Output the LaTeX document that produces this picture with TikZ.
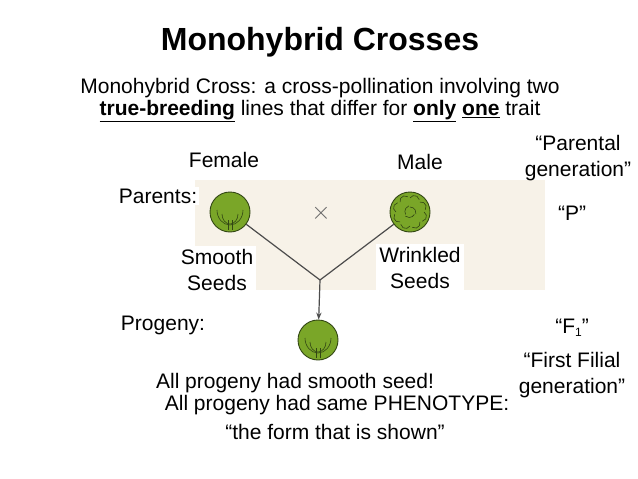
\documentclass[tikz,border=0pt]{standalone}
\usepackage{fontspec}
\setmainfont{Liberation Sans}
\usetikzlibrary{arrows.meta}
\definecolor{pea}{RGB}{122,166,40}
\definecolor{peadark}{RGB}{50,70,20}
\definecolor{paper}{RGB}{247,242,232}
\tikzset{
  txt/.style={font=\fontsize{21}{26}\selectfont, align=center, inner sep=0pt},
  seed/.style={circle, fill=pea, draw=peadark, line width=0.9pt, minimum size=40pt},
  link/.style={draw=black!70, line width=1.2pt}
}
\begin{document}
\begin{tikzpicture}[x=1pt,y=-1pt]
\useasboundingbox (0,0) rectangle (638,479);
\fill[white] (0,0) rectangle (638,479);
\fill[paper] (195,180) rectangle (545,290);
\node[txt,font=\bfseries\fontsize{32}{36}\selectfont] (title) at (320,42) {Monohybrid Crosses};
\node[txt] (d1) at (320,88) {Monohybrid Cross: a cross-pollination involving two};
\node[txt] (d2) at (320,111) {\textbf{\underline{true-breeding}} lines that differ for \textbf{\underline{only}} \textbf{\underline{one}} trait};
\node[txt] (fem) at (224,160) {Female};
\node[txt] (male) at (420,162) {Male};
\node[txt,fill=white,inner sep=2pt] (par) at (158,196) {Parents:};
\node[txt] (pg) at (578,158) {“Parental\\generation”};
\node[txt] (p) at (572,213) {“P”};
\node[seed] (s1) at (230,212) {};
\node[seed,minimum size=40pt] (s2) at (410,212) {};
\foreach \a in {0,45,...,315} \draw[peadark,line width=0.6pt] (s2.center) ++(\a:14) arc (\a-60:\a+80:5);
\foreach \a in {30,150,270} \draw[peadark,line width=0.6pt] (s2.center) ++(\a:5) arc (\a:\a+100:6);
\node[font=\fontsize{24}{24}\selectfont,text=black!60] (x) at (321,213) {$\times$};
\node[txt,fill=white,inner sep=3pt] (ss) at (217,270) {Smooth\\Seeds};
\node[txt,fill=white,inner sep=3pt] (ws) at (420,268) {Wrinkled\\Seeds};
\coordinate (j) at (320,280);
\node[seed] (s3) at (318,340) {};
\foreach \s in {s1,s3} {
  \draw[peadark,line width=0.6pt] (\s.center) ++(-13,-2) arc (180:0:13 and 15);
  \draw[peadark,line width=0.6pt] (\s.center) ++(-8,2) arc (180:0:8 and 10);
  \draw[peadark,line width=0.6pt] (\s.center) ++(-2,8) -- ++(0,10) (\s.center) ++(2,8) -- ++(0,10);
}
\draw[link] (s1) -- (j);
\draw[link] (s2) -- (j);
\draw[link,-{Stealth[length=7pt]}] (j) -- (s3);
\node[txt] (prog) at (163,325) {Progeny:};
\node[txt] (f1) at (572,328) {“F\raisebox{-3pt}{\fontsize{12}{12}\selectfont 1}”};
\node[txt] (ff) at (572,375) {“First Filial\\generation”};
\node[txt] (a1) at (295,383) {All progeny had smooth seed!};
\node[txt] (a2) at (337,405) {All progeny had same PHENOTYPE:};
\node[txt] (a3) at (335,432) {“the form that is shown”};
\end{tikzpicture}
\end{document}
